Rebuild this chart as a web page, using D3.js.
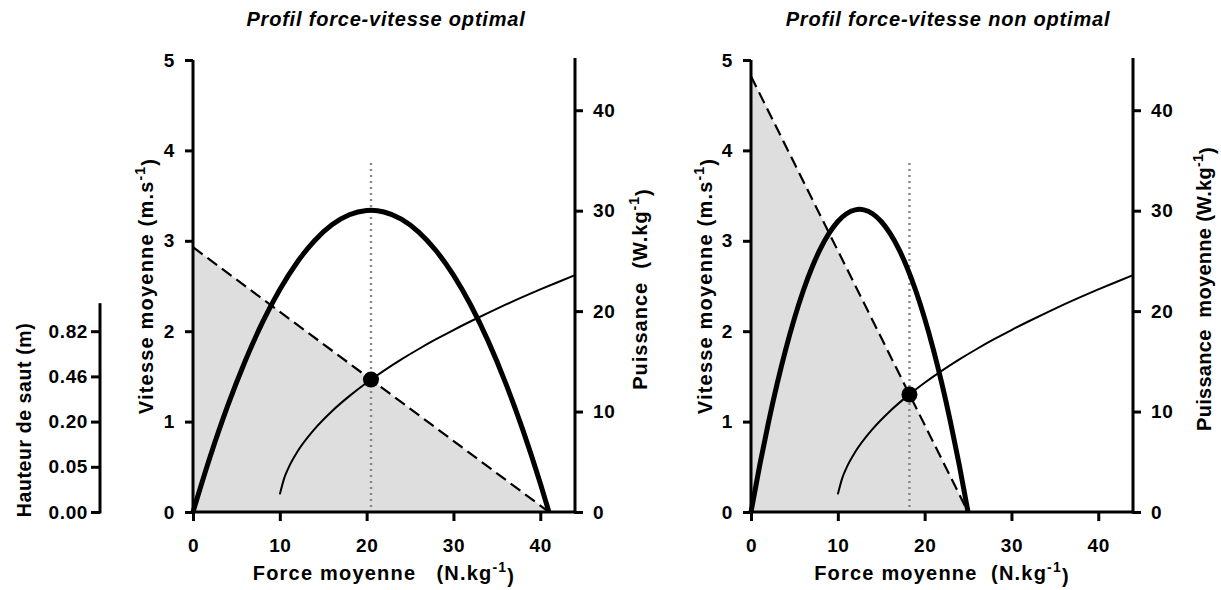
<!DOCTYPE html>
<html>
<head>
<meta charset="utf-8">
<script src="https://cdn.jsdelivr.net/npm/d3@7"></script>
<style>
  html, body { margin: 0; padding: 0; background: #fff; }
  svg text { font-family: "Liberation Sans", Arial, sans-serif; font-weight: bold; fill: #000; }
</style>
</head>
<body>
<svg id="chart" width="1221" height="590"></svg>
<script>
// ---------- data ----------
const panelTitles = ["Profil force-vitesse optimal", "Profil force-vitesse non optimal"];
const rightAxisTitles = ["Puissance  (W.kg", "Puissance  moyenne (W.kg"];
const xAxisTitles = ["Force moyenne   (N.kg", "Force moyenne  (N.kg"];
const forceTicks = [0, 10, 20, 30, 40];
const velocityTicks = [0, 1, 2, 3, 4, 5];
const powerTicks = [0, 10, 20, 30, 40];
const jumpTickVelocity = [0, 0.5, 1, 1.5, 2];
const jumpTickLabels = ["0.00", "0.05", "0.20", "0.46", "0.82"];

// optimal profile
const optFvLine = [[0, 2.93], [41, 0]];
const optForce = [0, 2, 4, 6, 8, 10, 12, 14, 16, 18, 20, 20.5, 22, 24, 26, 28, 30, 32, 34, 36, 38, 40, 41];
const optPower = [0, 5.57, 10.58, 15.01, 18.87, 22.15, 24.87, 27.01, 28.59, 29.59, 30.01, 30.03, 29.87, 29.16, 27.87, 26.01, 23.58, 20.58, 17.01, 12.86, 8.15, 2.86, 0];
const optPoint = [20.5, 1.465];

// non optimal profile
const nonOptFvLine = [[0, 4.82], [25, 0]];
const nonOptForce = [0, 1, 2, 3, 4, 5, 6, 7, 8, 9, 10, 11, 12, 12.5, 13, 14, 15, 16, 17, 18, 19, 20, 21, 22, 23, 24, 25];
const nonOptPower = [0, 4.63, 8.87, 12.73, 16.20, 19.28, 21.98, 24.29, 26.22, 27.76, 28.92, 29.69, 30.08, 30.13, 30.08, 29.69, 28.92, 27.76, 26.22, 24.29, 21.98, 19.28, 16.20, 12.73, 8.87, 4.63, 0];
const nonOptPoint = [18.25, 1.30];

// velocity curve (same in both panels)
const curveForce = [10, 10.5, 11, 12, 14, 16, 18, 20, 22, 24, 26, 28, 30, 32, 34, 36, 38, 40, 42, 44];
const curveVelocity = [0.195, 0.372, 0.489, 0.663, 0.917, 1.115, 1.282, 1.430, 1.564, 1.688, 1.803, 1.911, 2.013, 2.110, 2.203, 2.293, 2.379, 2.462, 2.542, 2.620];

const dottedTop = 3.86;
const jumpAxisTop = 2.31;

// ---------- drawing ----------
const svg = d3.select("#chart");
const yTop = 60, yBottom = 512;

const panels = [
  { x0: 193, x1: 575, title: panelTitles[0], titleX: 386, fv: optFvLine, force: optForce, power: optPower, point: optPoint,
    leftLabelX: 146, rightLabelX: 640, rightLabelY: 289, rightTitle: rightAxisTitles[0], xTitle: xAxisTitles[0], rightLs: "1px" },
  { x0: 751, x1: 1133, title: panelTitles[1], titleX: 948, fv: nonOptFvLine, force: nonOptForce, power: nonOptPower, point: nonOptPoint,
    leftLabelX: 705, rightLabelX: 1204, rightLabelY: 289, rightTitle: rightAxisTitles[1], xTitle: xAxisTitles[1], rightLs: "0.3px" }
];

const yV = d3.scaleLinear().domain([0, 5]).range([yBottom, yTop]);
const yP = d3.scaleLinear().domain([0, 45]).range([yBottom, yTop]);

function styleAxis(g) {
  g.select(".domain").attr("stroke", "#000").attr("stroke-width", 3);
  g.selectAll(".tick line").attr("stroke", "#000").attr("stroke-width", 3);
  g.selectAll(".tick text").style("font-size", "19px").style("font-weight", "bold")
    .style("letter-spacing", "0.6px")
    .style("font-family", '"Liberation Sans", Arial, sans-serif');
}

function addSup(textSel, main, sup, after) {
  textSel.append("tspan").text(main);
  textSel.append("tspan").attr("dy", "-0.55em").style("font-size", "14px").text(sup);
  textSel.append("tspan").attr("dy", "0.55em").text(after);
}

panels.forEach(p => {
  const x = d3.scaleLinear().domain([0, 44]).range([p.x0, p.x1]);
  const g = svg.append("g");

  // shaded area under F-v line
  const tri = [[0, 0], p.fv[0], p.fv[1]];
  g.append("path")
    .attr("d", d3.line().x(d => x(d[0])).y(d => yV(d[1]))(tri) + "Z")
    .attr("fill", "#dedede").attr("stroke", "none");

  // dotted vertical line
  g.append("line")
    .attr("x1", x(p.point[0])).attr("x2", x(p.point[0]))
    .attr("y1", yV(dottedTop)).attr("y2", yV(0))
    .attr("stroke", "#888").attr("stroke-width", 2.4).attr("stroke-dasharray", "2,4");

  // dashed F-v line
  g.append("path")
    .attr("d", d3.line().x(d => x(d[0])).y(d => yV(d[1]))(p.fv))
    .attr("fill", "none").attr("stroke", "#000").attr("stroke-width", 2.2).attr("stroke-dasharray", "12,6");

  // power curve
  const pts = p.force.map((f, i) => [f, p.power[i]]);
  g.append("path")
    .attr("d", d3.line().x(d => x(d[0])).y(d => yP(d[1])).curve(d3.curveMonotoneX)(pts))
    .attr("fill", "none").attr("stroke", "#000").attr("stroke-width", 5);

  // velocity curve
  const cpts = curveForce.map((f, i) => [f, curveVelocity[i]]);
  g.append("path")
    .attr("d", d3.line().x(d => x(d[0])).y(d => yV(d[1])).curve(d3.curveMonotoneX)(cpts))
    .attr("fill", "none").attr("stroke", "#000").attr("stroke-width", 2);

  // point
  g.append("circle").attr("cx", x(p.point[0])).attr("cy", yV(p.point[1])).attr("r", 8).attr("fill", "#000");

  // axes
  const ax = g.append("g").attr("transform", `translate(0,${yBottom})`)
    .call(d3.axisBottom(x).tickValues(forceTicks).tickFormat(d3.format("d")).tickSize(9).tickSizeOuter(0).tickPadding(18));
  styleAxis(ax);
  ax.select(".domain").attr("d", `M${p.x0 - 2},0H${p.x1}`);

  const al = g.append("g").attr("transform", `translate(${p.x0},0)`)
    .call(d3.axisLeft(yV).tickValues(velocityTicks).tickFormat(d3.format("d")).tickSize(8).tickSizeOuter(0).tickPadding(10));
  styleAxis(al);
  al.select(".domain").attr("d", `M0,${yTop}V${yBottom + 1.5}`);

  const ar = g.append("g").attr("transform", `translate(${p.x1},0)`)
    .call(d3.axisRight(yP).tickValues(powerTicks).tickFormat(d3.format("d")).tickSize(8).tickSizeOuter(0).tickPadding(10));
  styleAxis(ar);
  ar.select(".domain").attr("d", `M0,${yTop - 2}V${yBottom + 1.5}`);

  // titles
  g.append("text").attr("x", p.titleX).attr("y", 26).attr("text-anchor", "middle")
    .style("font-size", "20px").style("font-style", "italic").style("letter-spacing", "0.8px").text(p.title);

  const xl = g.append("text").attr("x", (p.x0 + p.x1) / 2).attr("y", 580).attr("text-anchor", "middle")
    .style("font-size", "20px").style("letter-spacing", "1.2px").attr("xml:space", "preserve");
  addSup(xl, p.xTitle, "-1", ")");

  const yl = g.append("text").attr("transform", `translate(${p.leftLabelX},286) rotate(-90)`)
    .attr("text-anchor", "middle").attr("dy", "0.35em").style("font-size", "20px").style("letter-spacing", "1.2px");
  addSup(yl, "Vitesse moyenne (m.s", "-1", ")");

  const yr = g.append("text").attr("transform", `translate(${p.rightLabelX},${p.rightLabelY}) rotate(-90)`)
    .attr("text-anchor", "middle").attr("dy", "0.35em").style("font-size", "20px").style("letter-spacing", p.rightLs)
    .attr("xml:space", "preserve");
  addSup(yr, p.rightTitle, "-1", ")");
});

// jump height axis
const aj = svg.append("g").attr("transform", "translate(100,0)")
  .call(d3.axisLeft(yV).tickValues(jumpTickVelocity).tickFormat((d, i) => jumpTickLabels[i])
    .tickSize(9).tickSizeOuter(0).tickPadding(3));
styleAxis(aj);
aj.select(".domain").attr("d", `M0,${yV(jumpAxisTop)}V${yBottom + 1.5}`);

svg.append("text").attr("transform", "translate(24,420) rotate(-90)")
  .attr("text-anchor", "middle").attr("dy", "0.35em").style("font-size", "19.5px").style("letter-spacing", "0.6px")
  .text("Hauteur de saut (m)");
</script>
</body>
</html>
